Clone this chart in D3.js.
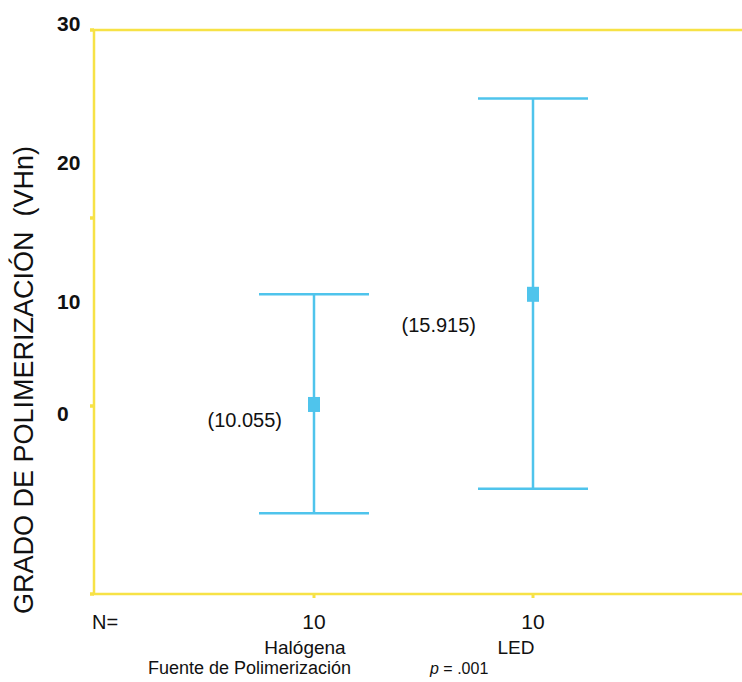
<html>
<head>
<title>Grado de polimerización</title>
<script src="https://d3js.org/d3.v7.min.js"></script>
<style>
  body { margin: 0; background: #fff; }
  text { font-family: "Liberation Sans", Arial, sans-serif; fill: #111; }
</style>
</head>
<body>
<div id="container"></div>
<script>
// data
var categories = ["Halógena", "LED"];
var nCounts = [10, 10];
var means = [10.055, 15.915];
var upper = [15.95, 26.35];
var lower = [4.3, 5.6];
var yTicks = [0, 10, 20, 30];
var pValue = ".001";

var width = 742, height = 682;
var yellow = "#f7e246", blue = "#4fc4ec";

var svg = d3.select("#container").append("svg")
    .attr("width", width)
    .attr("height", height);

var x = d3.scalePoint().domain(categories).range([95, 752]).padding(1);
var y = d3.scaleLinear().domain([0, 30]).range([594, 30]);
// the printed tick labels sit off their ticks, so they get their own scale
var yLabel = d3.scaleLinear().domain([0, 10, 20, 30]).range([421, 309, 170, 31]);

var x0 = 94, x1 = 760;

// frame
svg.append("path")
    .attr("d", "M" + x1 + "," + y(30) + "H" + x0 + "V" + y(0) + "H" + x1)
    .style("fill", "none")
    .style("stroke", yellow)
    .style("stroke-width", 2.5);

// left ticks
svg.selectAll(".ytick")
    .data(yTicks)
    .enter().append("line")
    .attr("class", "ytick")
    .attr("x1", x0 - 4).attr("x2", x0)
    .attr("y1", function(d) { return y(d); })
    .attr("y2", function(d) { return y(d); })
    .style("stroke", yellow)
    .style("stroke-width", 3.5);

svg.selectAll(".ylab")
    .data(yTicks)
    .enter().append("text")
    .attr("class", "ylab")
    .attr("x", 57)
    .attr("y", function(d) { return yLabel(d); })
    .style("font-size", "21px")
    .style("font-weight", "bold")
    .text(function(d) { return d; });

// bottom ticks
svg.selectAll(".xtick")
    .data(categories)
    .enter().append("line")
    .attr("class", "xtick")
    .attr("x1", function(d) { return x(d); })
    .attr("x2", function(d) { return x(d); })
    .attr("y1", y(0)).attr("y2", y(0) + 4)
    .style("stroke", yellow)
    .style("stroke-width", 3);

// error bars
var bars = svg.selectAll(".bar")
    .data(categories)
    .enter().append("g")
    .attr("class", "bar");

var capW = 55;
bars.append("line")
    .attr("x1", function(d) { return x(d); })
    .attr("x2", function(d) { return x(d); })
    .attr("y1", function(d, i) { return y(upper[i]); })
    .attr("y2", function(d, i) { return y(lower[i]); });
bars.append("line")
    .attr("x1", function(d) { return x(d) - capW; })
    .attr("x2", function(d) { return x(d) + capW; })
    .attr("y1", function(d, i) { return y(upper[i]); })
    .attr("y2", function(d, i) { return y(upper[i]); });
bars.append("line")
    .attr("x1", function(d) { return x(d) - capW; })
    .attr("x2", function(d) { return x(d) + capW; })
    .attr("y1", function(d, i) { return y(lower[i]); })
    .attr("y2", function(d, i) { return y(lower[i]); });
bars.selectAll("line")
    .style("stroke", blue)
    .style("stroke-width", 2.5);

bars.append("rect")
    .attr("x", function(d) { return x(d) - 6; })
    .attr("y", function(d, i) { return y(means[i]) - 8; })
    .attr("width", 12)
    .attr("height", 15)
    .style("fill", blue);

// mean labels
var labelShift = [[-32, 22], [-57, 37]];
bars.append("text")
    .attr("x", function(d, i) { return x(d) + labelShift[i][0]; })
    .attr("y", function(d, i) { return y(means[i]) + labelShift[i][1]; })
    .attr("text-anchor", "end")
    .style("font-size", "20px")
    .text(function(d, i) { return "(" + d3.format(".3f")(means[i]) + ")"; });

// N row
svg.append("text")
    .attr("x", 92).attr("y", 629)
    .style("font-size", "20px")
    .text("N=");
svg.selectAll(".ncount")
    .data(categories)
    .enter().append("text")
    .attr("class", "ncount")
    .attr("x", function(d) { return x(d); })
    .attr("y", 629)
    .attr("text-anchor", "middle")
    .style("font-size", "21px")
    .text(function(d, i) { return nCounts[i]; });

svg.selectAll(".cat")
    .data(categories)
    .enter().append("text")
    .attr("class", "cat")
    .attr("x", function(d, i) { return x(d) - 9 - i * 8; })
    .attr("y", 654)
    .attr("text-anchor", "middle")
    .style("font-size", "19px")
    .text(function(d) { return d; });

svg.append("text")
    .attr("x", 148).attr("y", 674)
    .style("font-size", "18px")
    .text("Fuente de Polimerización");

var p = svg.append("text")
    .attr("x", 430).attr("y", 674)
    .style("font-size", "16px");
p.append("tspan").style("font-style", "italic").text("p");
p.append("tspan").text(" = " + pValue);

// y title
svg.append("text")
    .attr("transform", "translate(33,380) rotate(-90)")
    .attr("text-anchor", "middle")
    .style("font-size", "27px")
    .style("white-space", "pre")
    .text("GRADO DE POLIMERIZACIÓN  (VHn)");
</script>
</body>
</html>
